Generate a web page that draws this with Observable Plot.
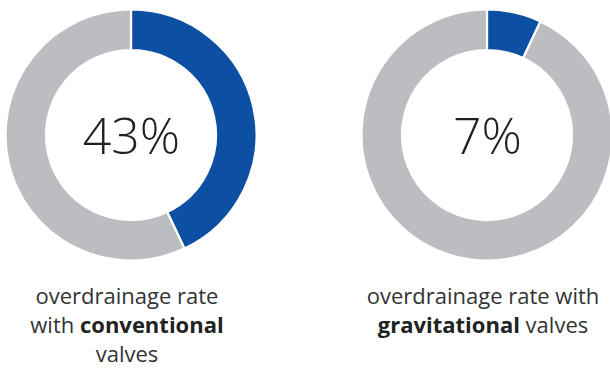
<!DOCTYPE html>
<html>
<head>
<meta charset="utf-8">
<script src="https://cdn.jsdelivr.net/npm/d3@7"></script>
<script src="https://cdn.jsdelivr.net/npm/@observablehq/plot@0.6"></script>
<style>
  body { margin: 0; background: #fff; }
  #wrap { position: relative; width: 610px; height: 368px; overflow: hidden; }
  .lab { position: absolute; top: 281px; width: 320px; text-align: center;
         font-family: "Open Sans", sans-serif; font-size: 22px; line-height: 29px; color: #333; }
  .lab b { font-weight: 700; color: #222; }
</style>
</head>
<body>
<div id="wrap"></div>
<script>
// Data
const valves = ["conventional", "gravitational"];
const overdrainage = [43, 7];            // percent
const parts = ["overdrainage", "none"];
const partColors = ["#0d4fa3", "#bcbdc0"];
const labelLines = [
  ["overdrainage rate", "with <b>conventional</b>", "valves"],
  ["overdrainage rate with", "<b>gravitational</b> valves"]
];

const data = valves.map((v, i) => ({valve: v, pct: overdrainage[i]}));
const color = d3.scaleOrdinal(parts, partColors);

function donuts(index, scales, values, dimensions) {
  const g = d3.create("svg:g");
  const cy = (dimensions.marginTop + dimensions.height - dimensions.marginBottom) / 2;
  const pie = d3.pie().sort(null).value(d => d.v);
  const arc = d3.arc().innerRadius(85).outerRadius(125.5);
  for (const d of data) {
    const slices = pie([{k: parts[0], v: d.pct}, {k: parts[1], v: 100 - d.pct}]);
    g.append("g")
      .attr("transform", `translate(${scales.x(d.valve)},${cy})`)
      .selectAll("path")
      .data(slices)
      .join("path")
      .attr("d", arc)
      .attr("fill", s => color(s.data.k))
      .attr("stroke", "#fff")
      .attr("stroke-width", 2.2);
  }
  return g.node();
}

const chart = Plot.plot({
  width: 610,
  height: 270,
  margin: 0,
  x: {type: "point", domain: valves, range: [131, 487], padding: 0, axis: null},
  marks: [
    donuts,
    Plot.text(data, {
      x: "valve",
      text: d => d.pct + "%",
      fontSize: 50,
      fontWeight: 300,
      fontFamily: "Open Sans",
      fill: "#231f20",
      dy: 2
    })
  ]
});

const wrap = document.getElementById("wrap");
wrap.appendChild(chart);
const centers = [127, 483];
labelLines.forEach((lines, i) => {
  const div = document.createElement("div");
  div.className = "lab";
  div.style.left = (centers[i] - 160) + "px";
  div.innerHTML = lines.join("<br>");
  wrap.appendChild(div);
});
</script>
</body>
</html>
